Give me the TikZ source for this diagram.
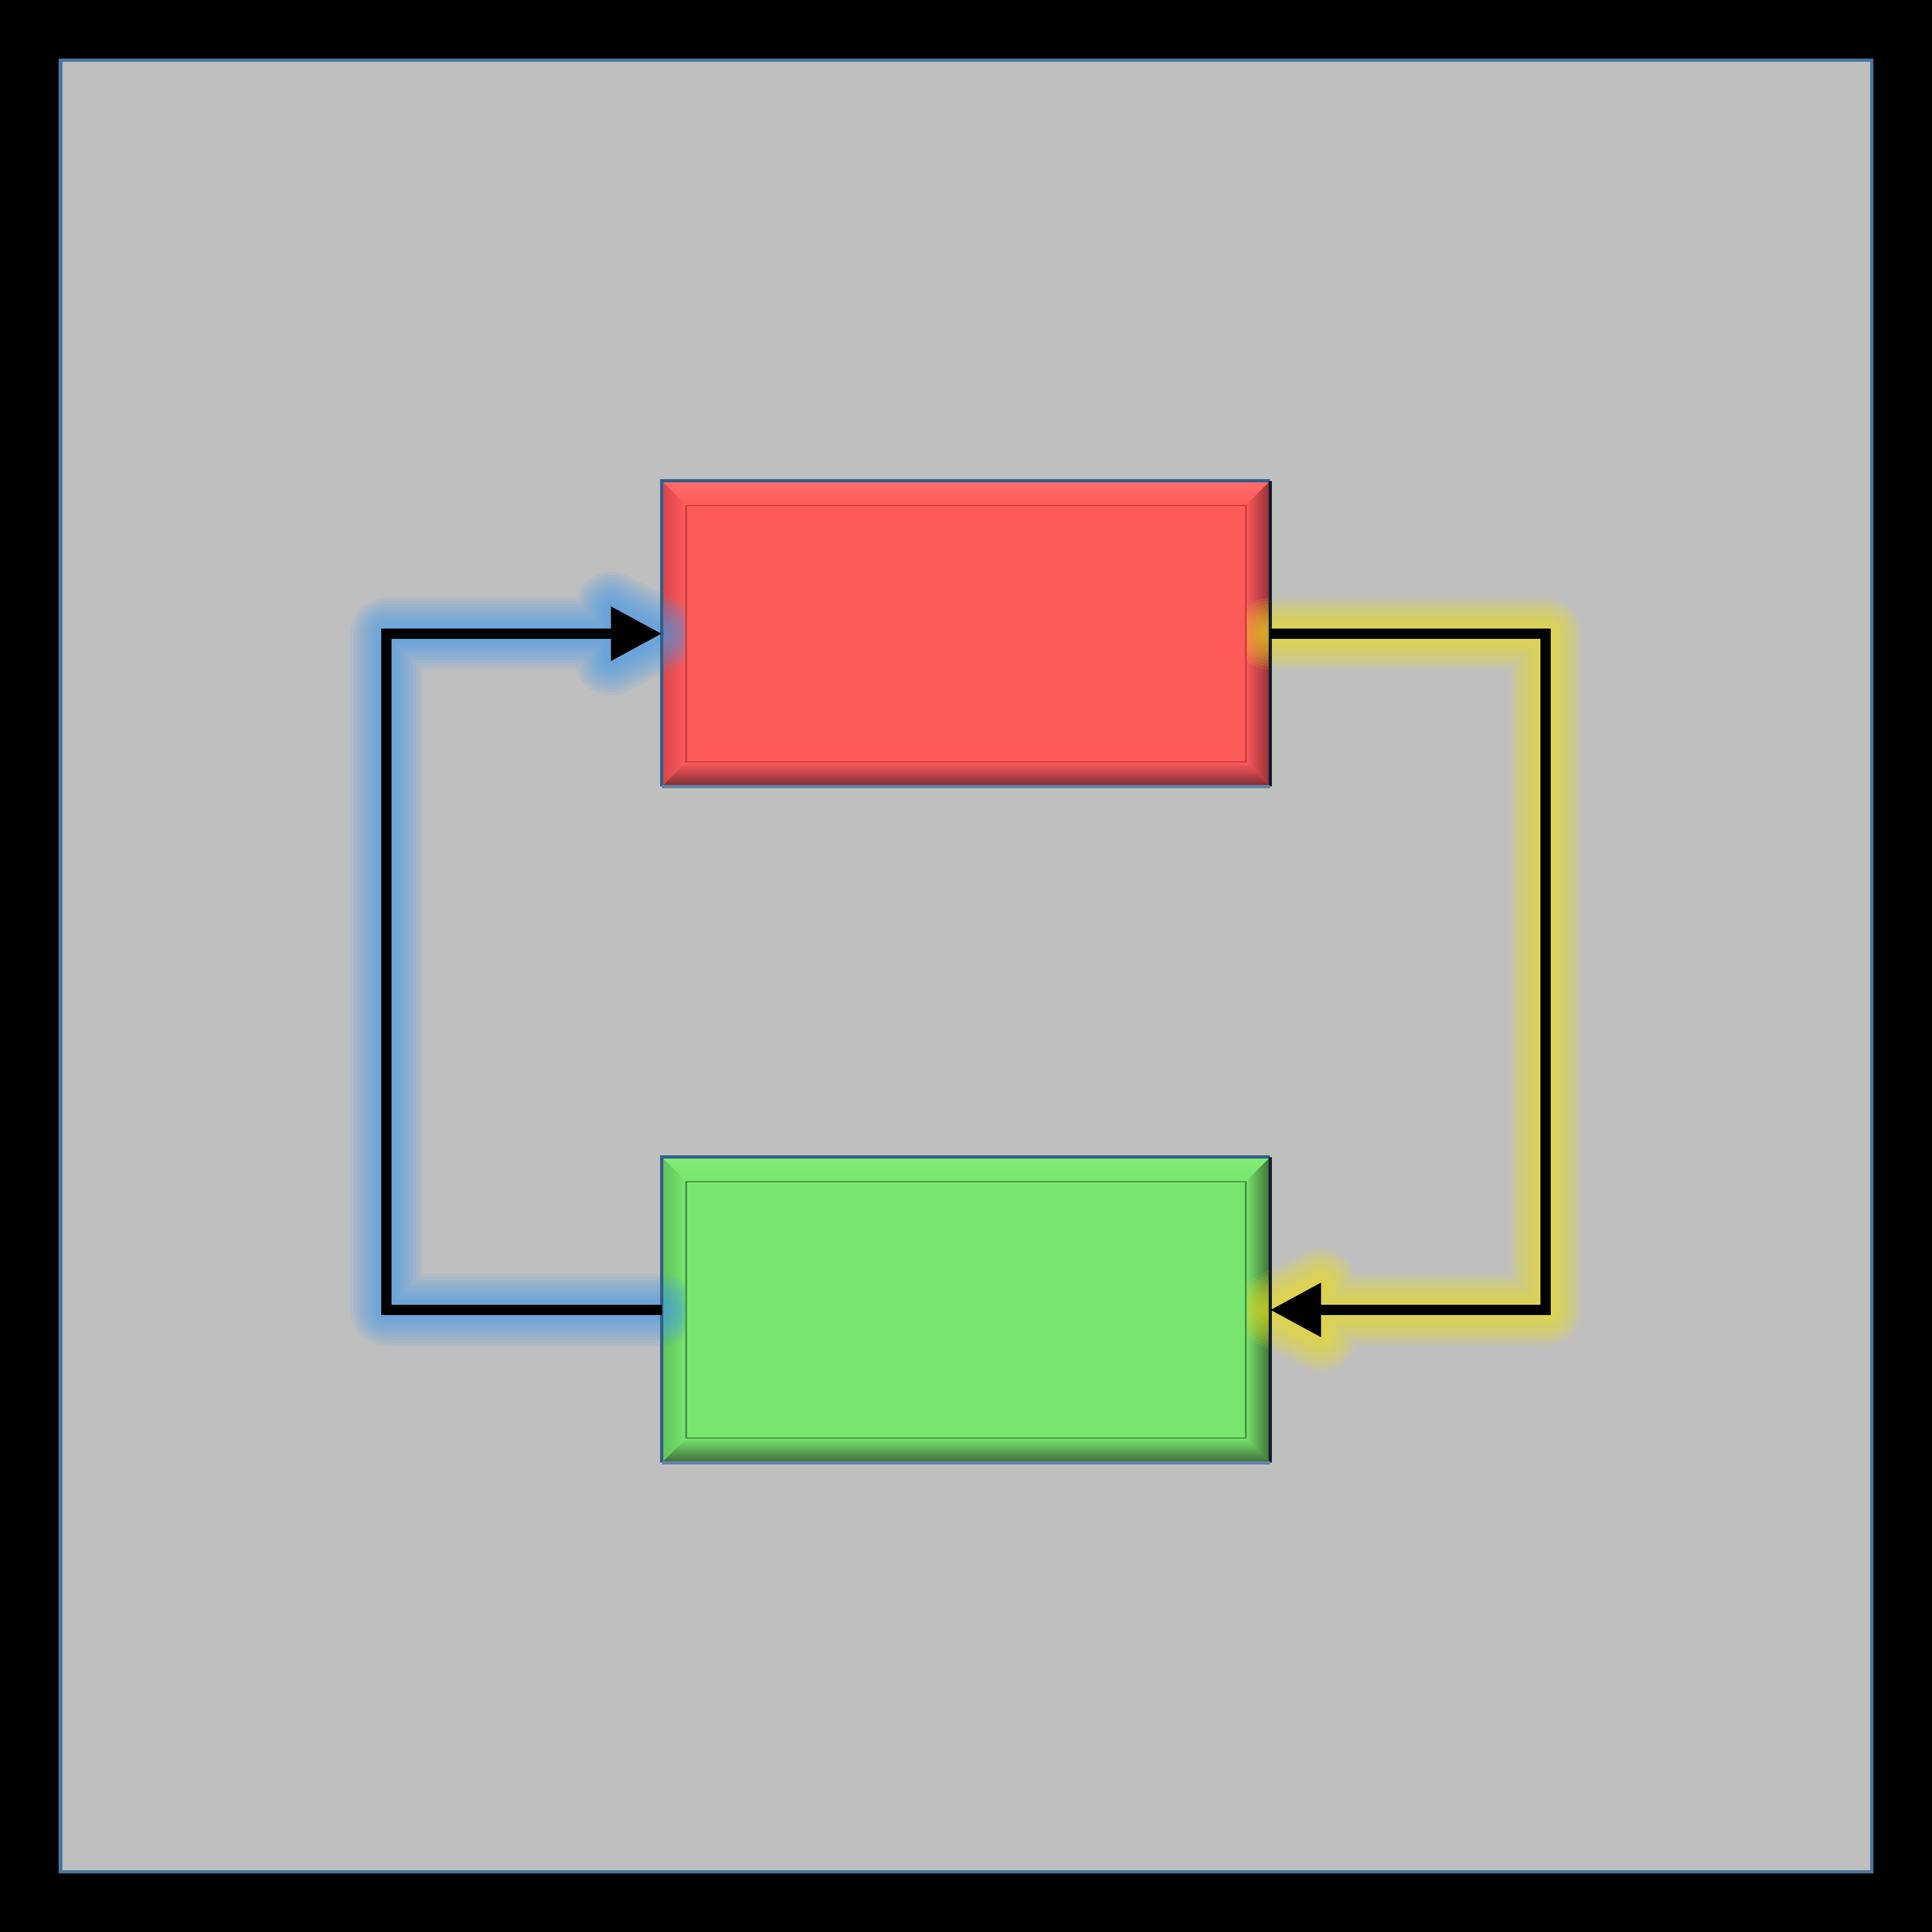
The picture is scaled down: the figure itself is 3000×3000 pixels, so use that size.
\documentclass[tikz,border=0pt]{standalone}
\usetikzlibrary{arrows.meta,calc}
\definecolor{panel}{RGB}{191,191,191}
\definecolor{panelline}{RGB}{74,118,160}
\definecolor{redfill}{RGB}{255,90,90}
\definecolor{redtopA}{RGB}{255,108,108}
\definecolor{redtopB}{RGB}{255,138,138}
\definecolor{redleft}{RGB}{212,70,76}
\definecolor{redright}{RGB}{145,48,55}
\definecolor{redbottom}{RGB}{120,45,52}
\definecolor{redinner}{RGB}{200,65,65}
\definecolor{greenfill}{RGB}{120,230,110}
\definecolor{greentopA}{RGB}{130,236,120}
\definecolor{greentopB}{RGB}{150,245,140}
\definecolor{greenleft}{RGB}{95,195,90}
\definecolor{greenright}{RGB}{62,110,55}
\definecolor{greenbottom}{RGB}{62,105,55}
\definecolor{greeninner}{RGB}{70,150,65}
\definecolor{edgeblue}{RGB}{50,95,135}
\definecolor{edgenavy}{RGB}{18,28,42}
\definecolor{edgelight}{RGB}{100,130,170}
\definecolor{blueglow}{RGB}{70,155,235}
\definecolor{yellowglow}{RGB}{240,225,30}
\tikzset{
  box/.style={rectangle, minimum width=9.44cm, minimum height=4.74cm, inner sep=0pt, outer sep=0pt, draw=none},
  conn/.style={black, line width=0.16cm, line join=miter},
  tipstyle/.style={-{Triangle[length=0.79cm,width=0.80cm]}},
  glowline/.style={draw opacity=0.1, line join=round, line cap=round}
}
% #1 name, #2 topA, #3 topB, #4 left, #5 right, #6 bottom, #7 fill
\newcommand{\bevelshade}[7]{%
  \coordinate (#1-NW) at (#1.north west);
  \coordinate (#1-NE) at (#1.north east);
  \coordinate (#1-SE) at (#1.south east);
  \coordinate (#1-SW) at (#1.south west);
  \coordinate (#1-nw) at ([shift={(38,38)}]#1.north west);
  \coordinate (#1-ne) at ([shift={(-38,38)}]#1.north east);
  \coordinate (#1-se) at ([shift={(-38,-38)}]#1.south east);
  \coordinate (#1-sw) at ([shift={(38,-38)}]#1.south west);
  \shade[top color=#2, middle color=#3, bottom color=#7] (#1-NW) -- (#1-NE) -- (#1-ne) -- (#1-nw) -- cycle;
  \shade[left color=#4, right color=#7] (#1-NW) -- (#1-nw) -- (#1-sw) -- (#1-SW) -- cycle;
  \shade[left color=#7, right color=#5] (#1-NE) -- (#1-ne) -- (#1-se) -- (#1-SE) -- cycle;
  \shade[top color=#7, bottom color=#6] (#1-SW) -- (#1-sw) -- (#1-se) -- (#1-SE) -- cycle;
}
% #1 name, #2 fill, #3 inner line
\newcommand{\bevelfinish}[3]{%
  \fill[#2] (#1-nw) rectangle (#1-se);
  \draw[#3, line width=0.025cm] (#1-nw) rectangle (#1-se);
  \draw[edgeblue, line width=0.05cm] (#1-SW) -- (#1-NW) -- (#1-NE);
  \draw[edgenavy, line width=0.05cm] (#1-NE) -- (#1-SE);
  \draw[edgelight, line width=0.05cm] (#1-SE) -- (#1-SW);
}
\begin{document}
\begin{tikzpicture}[x=0.01cm,y=-0.01cm]
\useasboundingbox (0,0) rectangle (3000,3000);
\fill[black] (0,0) rectangle (3000,3000);
\filldraw[fill=panel, draw=panelline, line width=0.05cm] (94,94) rectangle (2906,2906);

\node[box, fill=redfill] (red) at (1500,984) {};
\node[box, fill=greenfill] (green) at (1500,2034) {};

\coordinate (bl) at (600,2034);
\coordinate (tl) at (600,984);
\coordinate (tr) at (2400,984);
\coordinate (br) at (2400,2034);

\bevelshade{red}{redtopA}{redtopB}{redleft}{redright}{redbottom}{redfill}
\bevelshade{green}{greentopA}{greentopB}{greenleft}{greenright}{greenbottom}{greenfill}

% glows
\foreach \w in {112,102,92,82,72,62,52,42,32,22} {
  \draw[blueglow, glowline, line width=\w*0.01cm]
    (green.west) -- (bl) -- (tl) -- (red.west)
    (red.west) -- ++(-79,-40) -- ++(0,80) -- cycle;
  \draw[yellowglow, glowline, line width=\w*0.01cm]
    (red.east) -- (tr) -- (br) -- (green.east)
    (green.east) -- ++(79,-40) -- ++(0,80) -- cycle;
}

\bevelfinish{red}{redfill}{redinner}
\bevelfinish{green}{greenfill}{greeninner}

\draw[conn, tipstyle] (green.west) -- (bl) -- (tl) -- (red.west);
\draw[conn, tipstyle] (red.east) -- (tr) -- (br) -- (green.east);
\end{tikzpicture}
\end{document}
